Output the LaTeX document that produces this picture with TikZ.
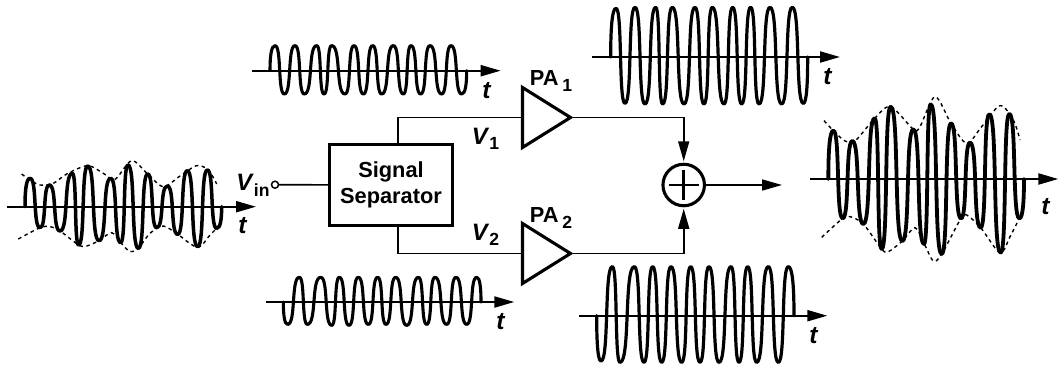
\documentclass[tikz,border=0pt]{standalone}
\usepackage{fontspec}
\setmainfont{Liberation Sans}
\usepackage{tikz}
\usetikzlibrary{arrows.meta,shapes.geometric,positioning,calc}

%% carrier curve: {shift}{axis y}{x/y extremes read off at 3x}
\newcommand{\wavecurve}[4][0.62mm]{
  \begin{scope}[shift={#2}, x=0.2mm/3, y=-0.2mm/3]
    \foreach \xb/\yb [remember=\xb as \xa, remember=\yb as \ya, count=\ni] in {#4}{
      \ifnum\ni>1
        \pgfmathsetmacro{\cxa}{\xa+(\ya==#3 ? 0 : 0.72)*(\xb-\xa)}
        \pgfmathsetmacro{\cya}{\ya==#3 ? \ya+0.6*(\yb-\ya) : \ya}
        \pgfmathsetmacro{\cxb}{\xb-(\yb==#3 ? 0 : 0.72)*(\xb-\xa)}
        \pgfmathsetmacro{\cyb}{\yb==#3 ? \yb+0.6*(\ya-\yb) : \yb}
        \draw[line width=#1, line cap=round]
          (\xa,\ya) .. controls (\cxa,\cya) and (\cxb,\cyb) .. (\xb,\yb);
      \fi
    }
  \end{scope}
}
\newcommand{\sublabel}[2]{\textit{\fontsize{13.5}{14}\selectfont #1}\raisebox{-3.2pt}{\fontsize{10}{10}\selectfont #2}}

\begin{document}
\begin{tikzpicture}[
  x=0.2mm, y=-0.2mm,
  every node/.style={font=\fontsize{12.4}{14.2}\selectfont\bfseries, inner sep=0pt, outer sep=0pt},
  sepbox/.style={draw, line width=0.62mm, minimum width=24.46mm, minimum height=16.28mm, align=center,
                 font=\fontsize{12.4}{14.6}\selectfont\bfseries},
  ampbox/.style={draw, line width=0.62mm, isosceles triangle, isosceles triangle stretches,
                 minimum width=12mm, minimum height=9.6mm, anchor=lower side},
  sumbox/.style={draw, circle, line width=0.62mm, minimum size=8.3mm},
  pinbox/.style={draw, circle, line width=0.3mm, fill=white, minimum size=1.4mm},
  wire/.style={line width=0.32mm},
  arrowwire/.style={wire, -{Triangle[length=4mm,width=2.2mm]}, shorten >=0.6mm},
  axisline/.style={line width=0.42mm, -{Triangle[length=4mm,width=2.2mm]}},
  envelope/.style={line width=0.28mm, dash pattern=on 0.7mm off 0.7mm},
]
\useasboundingbox (0,0) rectangle (1061,367);

%% Blocks
\node[sepbox] (sigsep) at (391,185) {Signal\\Separator};
\node[ampbox] (pa1) at (522.5,117.5) {};
\node[ampbox] (pa2) at (522.5,253.5) {};
\node[sumbox] (sum) at (683.7,185) {};
\node[pinbox] (vinpin) at (275,184.7) {};
\coordinate (sumout) at (782,185);

%% Wiring
\draw[wire] (vinpin) -- (sigsep);
\draw[wire] ([xshift=1.34mm]sigsep.north) |- (pa1.lower side);
\draw[wire] ([xshift=1.34mm]sigsep.south) |- (pa2.lower side);
\draw[arrowwire] (pa1.apex) -| (sum);
\draw[arrowwire] (pa2.apex) -| (sum);
\draw[axisline, line width=0.32mm] (sum) -- (sumout);
\draw[line width=0.56mm] ([xshift=-3mm]sum.center) -- ([xshift=3mm]sum.center);
\draw[line width=0.56mm] ([yshift=-3mm]sum.center) -- ([yshift=3mm]sum.center);

%% Labels
\node (vinlab) at (253,185.5) {\sublabel{V}{in}};
\node (v1lab) at (485.5,139) {\sublabel{V}{1}};
\node (v2lab) at (485.5,235) {\sublabel{V}{2}};
\node (pa1lab) at (551,81) {PA\,\raisebox{-3.2pt}{\fontsize{10}{10}\selectfont 1}};
\node (pa2lab) at (551,218) {PA\,\raisebox{-3.2pt}{\fontsize{10}{10}\selectfont 2}};
\foreach \xi/\yi/\lab in {243/226/a, 487/91/b, 501/322/c, 828/77/d, 814/336/e, 1046/207/f}{
  \node (t\lab) at (\xi,\yi) {\fontsize{14}{14}\selectfont\textit{t}};
}

%% Time axes
\draw[axisline] (7,206.7) -- (256,206.7);
\draw[axisline] (252.3,70.7) -- (500.7,70.7);
\draw[axisline] (265.7,302) -- (514.3,302);
\draw[axisline] (592.3,57) -- (840,57);
\draw[axisline] (579,315.7) -- (827.3,315.7);
\draw[axisline] (810,179) -- (1058.3,179);

%% Input waveform
\wavecurve[0.7mm]{(0,100)}{320}{75/320, 90/235, 120/383, 148/255, 180/393, 217/220, 236/435, 263/198,
  297/422, 332/235, 362/428, 384/195, 415/445, 443/222, 470/383, 502/258, 533/403, 562/212, 593/440,
  622/210, 650/385, 665/320}
%% Constant-envelope branches
\wavecurve{(250,0)}{212}{60/212, 75/137, 103/282, 135/137, 163/282, 200/137, 222/282, 245/137, 285/282,
  312/137, 340/282, 368/137, 395/282, 430/137, 460/282, 483/137, 512/282, 540/137, 575/282, 603/137,
  635/282, 650/212}
\wavecurve{(250,180)}{366}{100/366, 113/433, 148/292, 172/433, 212/292, 245/436, 268/292, 297/436,
  325/292, 355/433, 383/292, 408/433, 437/292, 470/436, 505/292, 530/433, 555/292, 590/433, 618/292,
  650/433, 680/292, 693/366}
\wavecurve[0.64mm]{(540,0)}{171}{212/171, 228/25, 255/310, 285/22, 315/312, 347/22, 368/312, 397/22,
  432/312, 465/22, 492/312, 517/22, 552/312, 578/22, 605/312, 632/22, 657/312, 690/22, 725/312, 757/22,
  790/310, 803/171}
\wavecurve[0.64mm]{(540,180)}{407}{170/407, 183/543, 217/260, 240/547, 283/260, 312/547, 338/260, 365/547,
  393/260, 425/547, 452/260, 480/547, 507/260, 537/547, 573/260, 597/547, 623/260, 650/547, 685/260,
  715/547, 745/260, 762/407}
%% Output waveform
\wavecurve[0.76mm]{(800,80)}{297}{85/297, 100/152, 128/415, 157/183, 190/432, 224/115, 245/507, 272/80,
  307/483, 340/148, 372/492, 392/73, 425/522, 453/130, 483/415, 510/188, 542/443, 568/103, 602/518,
  628/102, 658/415, 672/297}

%% Envelopes
\begin{scope}[shift={(0,100)}, x=0.2mm/3, y=-0.2mm/3]
  \draw[envelope] plot[smooth] coordinates {(65,222) (90,240) (120,255) (160,250) (200,222) (263,197)
    (310,220) (345,238) (395,182) (443,222) (490,260) (540,228) (590,197) (625,210) (650,252)};
  \draw[envelope] plot[smooth] coordinates {(55,417) (120,383) (150,380) (180,393) (236,435) (260,438)
    (297,422) (335,398) (362,428) (390,455) (415,445) (450,400) (490,378) (533,403) (593,442) (630,405) (660,375)};
\end{scope}
\begin{scope}[shift={(800,80)}, x=0.2mm/3, y=-0.2mm/3]
  \draw[envelope] plot[smooth] coordinates {(72,122) (100,152) (135,183) (165,183) (224,115) (272,80)
    (340,148) (360,140) (405,50) (453,130) (500,190) (545,140) (600,77) (640,120) (660,180)};
  \draw[envelope] plot[smooth] coordinates {(65,472) (128,415) (150,410) (190,432) (245,507) (265,515)
    (307,483) (345,443) (372,490) (400,543) (425,522) (483,415) (500,405) (542,443) (600,518) (630,470) (658,415)};
\end{scope}

\end{tikzpicture}
\end{document}
